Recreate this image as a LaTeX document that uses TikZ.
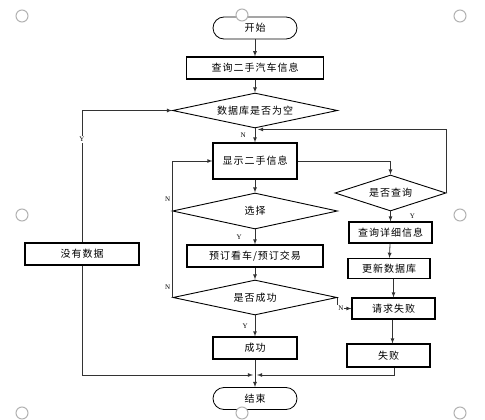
\documentclass[tikz,border=0pt]{standalone}
\usepackage{fontspec}
\setmainfont{Noto Sans CJK SC}[LetterSpace=10]
\newfontfamily\labelfont{Liberation Serif}
\usepackage{tikz}
\usetikzlibrary{shapes, arrows, positioning, calc}

\begin{document}
\begin{tikzpicture}[
    x=1pt, y=-1pt,
    >=latex,
    font=\fontsize{10}{12}\selectfont,
    box/.style={rectangle, draw, line width=1.1pt, minimum height=22pt, inner sep=1pt},
    term/.style={rectangle, rounded corners=11pt, draw, line width=0.8pt, minimum width=84pt, minimum height=22pt},
    decision/.style={diamond, aspect=5, draw, line width=0.9pt, inner sep=0pt, minimum width=165pt, minimum height=35pt},
    flow/.style={->, line width=0.8pt, draw=black!80},
    yn/.style={font=\labelfont\fontsize{7}{8}\selectfont, inner sep=1pt},
    handle/.style={draw=gray!60, line width=1pt, fill=white},
]
\useasboundingbox (0,0) rectangle (485,420);

% Start
\node (start) [term] at (255,28) {开始};

% Query
\node (query) [box, minimum width=137pt] at (255,68) {查询二手汽车信息};

% Empty check
\node (empty) [decision] at (255,110.5) {数据库是否为空};

% Show
\node (show) [box, minimum width=84pt, minimum height=36pt] at (255,161) {显示二手信息};

% Select
\node (select) [decision, minimum height=36pt] at (255,211) {选择};

% Book
\node (book) [box, minimum width=136pt] at (255,256) {预订看车/预订交易};

% Success check
\node (ok) [decision, minimum width=164pt] at (255,297.5) {是否成功};

% Success
\node (succ) [box, minimum width=84pt] at (255,348) {成功};

% End
\node (end) [term] at (255,398.5) {结束};

% No data
\node (nodata) [box, minimum width=114pt] at (82,254) {没有数据};

% Right branch
\node (ask) [decision, aspect=3, minimum width=111pt, minimum height=36pt] at (390.5,193) {是否查询};
\node (detail) [box, minimum width=83pt, minimum height=21pt] at (390.5,232.5) {查询详细信息};
\node (update) [box, minimum width=82pt, minimum height=20pt] at (389,268.5) {更新数据库};
\node (reqfail) [box, minimum width=83pt, minimum height=21pt] at (393.5,308.5) {请求失败};
\node (fail) [box, minimum width=83pt, minimum height=23pt] at (388.5,355.5) {失败};

\coordinate (join) at (255,375);

% Arrows
\draw [flow] (start) -- (query);
\draw [flow] (query) -- (empty);
\draw [flow] (empty) -- (show) node[yn, midway, left=8pt] {N};
\draw [flow, <-] (empty.west) -| (nodata.north) node[yn, pos=0.61, fill=white] {Y};
\draw [flow] (nodata.south) |- ([xshift=-2pt]join);
\draw [flow] (show) -- (select);
\draw [flow] (select) -- (book) node[yn, midway, left=12pt] {Y};
\draw [flow] (book) -- (ok);
\draw [flow] (ok) -- (succ) node[yn, midway, left=6pt] {Y};
\draw [flow] (succ) -- (end);
\draw [flow] (ok.west) |- (show.west) node[yn, pos=0.037, left=1pt] {N} node[yn, pos=0.36, left=1pt] {N};
\draw [flow] (show.east) -| (ask.north);
\draw [flow] (ask.east) |- ([yshift=-1pt, xshift=3pt]empty.south);
\draw [flow] (ask) -- (detail) node[yn, midway, right=18pt] {Y};
\draw [flow] (detail) -- (update);
\draw [flow] (reqfail.north |- update.south) -- (reqfail);
\draw [flow] (ok.east) |- (reqfail.west) node[yn, pos=0.62, fill=white] {N};
\draw [flow] (reqfail.south -| fail.north) ++(4pt,0) -- ([xshift=4pt]fail.north);
\draw [flow] ([xshift=6pt]fail.south) |- ([xshift=2pt]join);

% Handles
\foreach \hx/\hy in {22/16, 242/15, 460/16, 22/215, 460/215, 22/413, 242/413, 460/413}
    \draw [handle] (\hx,\hy) circle (6pt);

\end{tikzpicture}
\end{document}
